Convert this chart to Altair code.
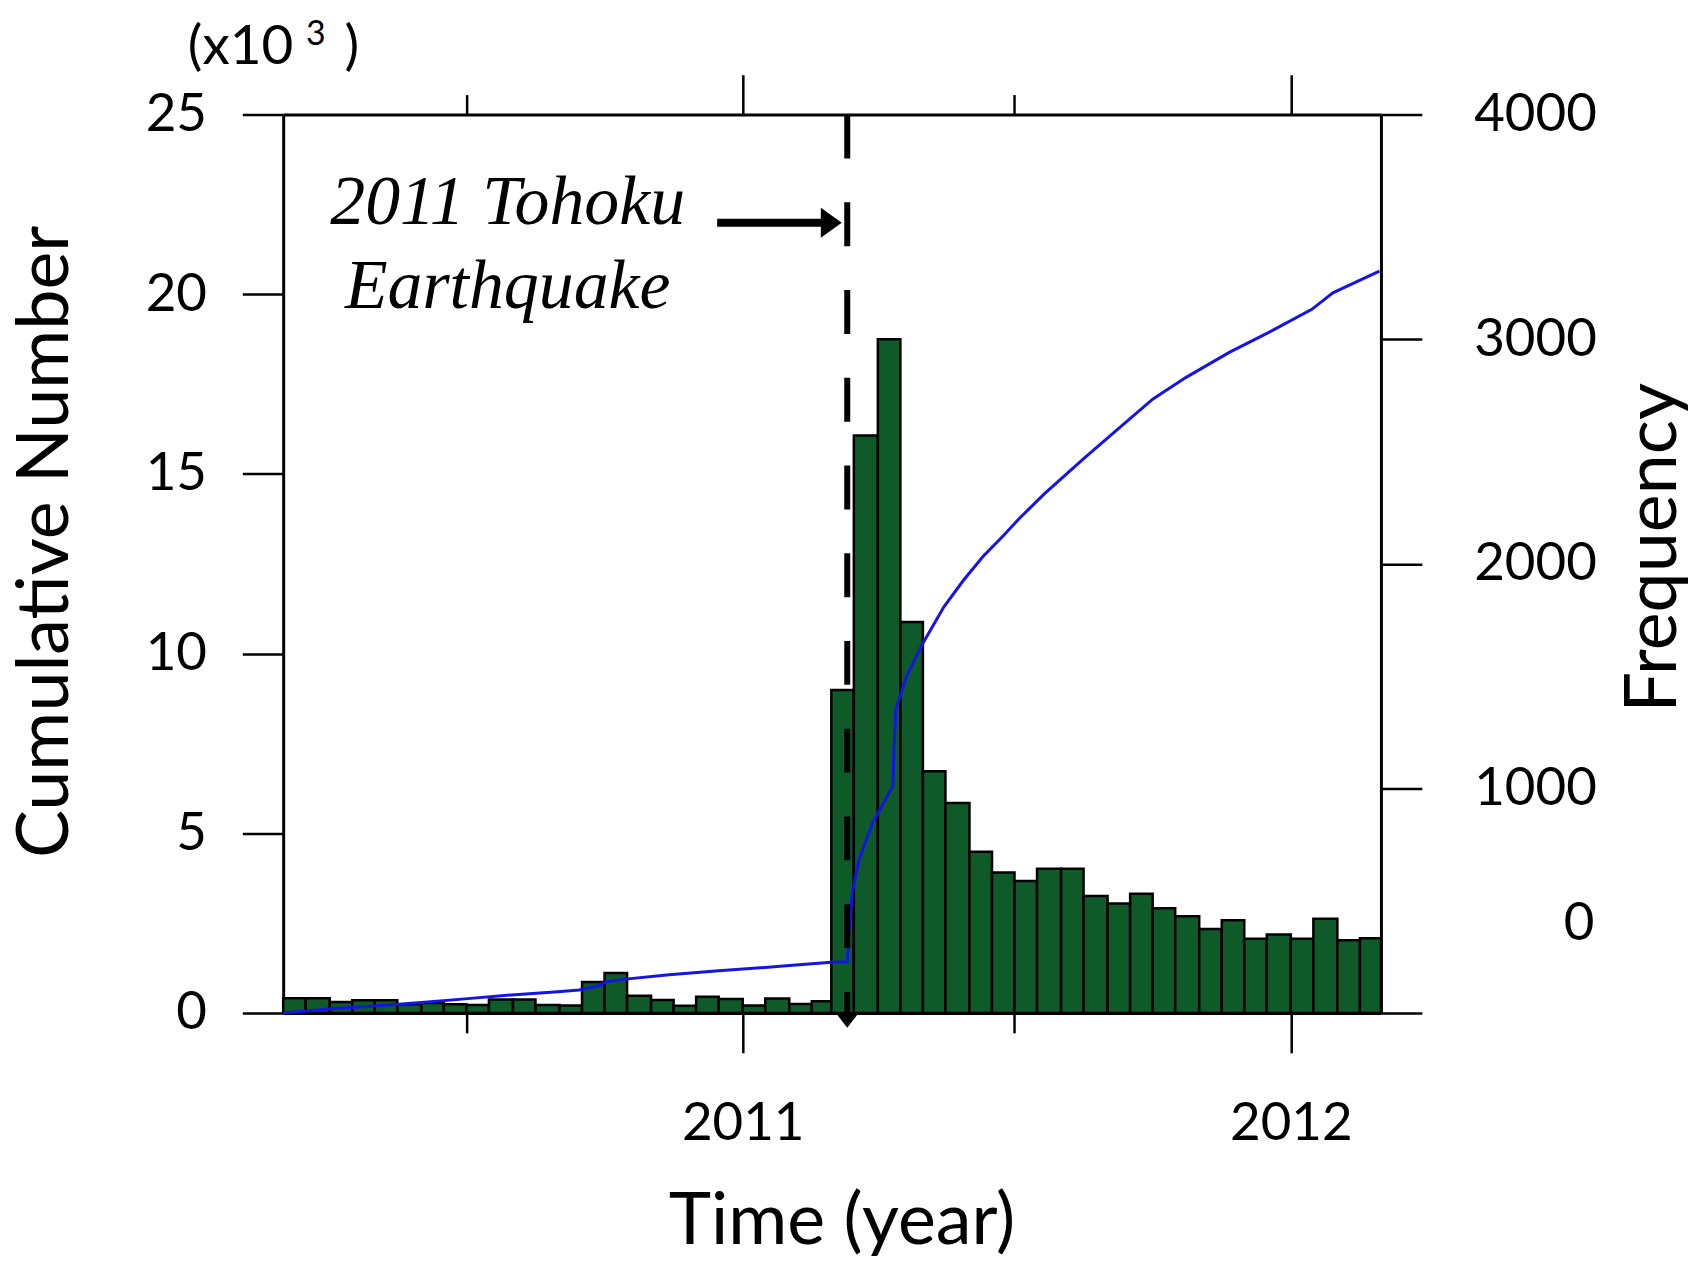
import altair as alt
import pandas as pd

# ---------------- data ----------------
# half-month bins, March 2010 .. February 2012
bin_starts = []
for yr, mo in [(2010, m) for m in range(3, 13)] + [(2011, m) for m in range(1, 13)] + [(2012, 1), (2012, 2)]:
    bin_starts.append(f"{yr}-{mo:02d}-01T00:00:00")
    bin_starts.append(f"{yr}-{mo:02d}-16T00:00:00")
bin_ends = bin_starts[1:] + ["2012-03-01T00:00:00"]

freq = [65, 65, 48, 56, 56, 38, 44, 38, 35, 60, 60, 35,
        33, 138, 178, 76, 57, 32, 72, 62, 33, 64, 40, 52,
        1438, 2571, 3000, 1741, 1076, 935, 717, 625, 587, 642, 642, 521,
        487, 530, 466, 430, 374, 413, 330, 349, 330, 419, 324, 332]

cum_dates = ["2010-03-01T00:00:00", "2010-03-31T00:00:00", "2010-05-01T00:00:00",
             "2010-05-30T00:00:00", "2010-06-30T00:00:00", "2010-07-31T00:00:00",
             "2010-08-31T00:00:00", "2010-09-14T00:00:00", "2010-09-28T00:00:00",
             "2010-10-02T00:00:00", "2010-10-15T00:00:00", "2010-11-13T00:00:00",
             "2010-12-16T00:00:00", "2011-01-30T00:00:00", "2011-03-01T00:00:00",
             "2011-03-11T14:46:00", "2011-03-13T00:00:00", "2011-03-15T00:00:00",
             "2011-03-19T12:00:00", "2011-03-28T12:00:00", "2011-04-11T00:00:00",
             "2011-04-11T18:00:00", "2011-04-13T00:00:00", "2011-04-20T00:00:00",
             "2011-05-01T00:00:00", "2011-05-15T00:00:00", "2011-05-28T00:00:00",
             "2011-06-10T00:00:00", "2011-06-24T00:00:00", "2011-07-04T00:00:00",
             "2011-07-21T00:00:00", "2011-08-17T00:00:00", "2011-09-08T00:00:00",
             "2011-10-01T00:00:00", "2011-10-23T00:00:00", "2011-11-21T00:00:00",
             "2011-12-17T00:00:00", "2012-01-15T00:00:00", "2012-01-29T00:00:00",
             "2012-02-29T00:00:00"]
cum_vals = [0.0, 0.11, 0.19,
            0.28, 0.39, 0.50,
            0.59, 0.64, 0.76,
            0.87, 0.94, 1.06,
            1.17, 1.31, 1.41,
            1.42, 2.42, 3.35,
            4.27, 5.29, 6.31,
            7.33, 8.44, 9.36,
            10.29, 11.30, 12.04,
            12.70, 13.30, 13.75,
            14.45, 15.46, 16.25,
            17.08, 17.68, 18.38,
            18.93, 19.58, 20.04,
            20.64]

bars_df = pd.DataFrame({"start": bin_starts, "end": bin_ends, "freq": freq})
line_df = pd.DataFrame({"date": cum_dates, "cum": cum_vals})
one_row = pd.DataFrame({"k": [0]})

# ---------------- style ----------------
FONT = "Lato"
SERIF = "Liberation Serif"
GREEN = "#0e5a28"
BLUE = "#1414e6"

x_scale = alt.Scale(domain=[alt.DateTime(year=2010, month=3, date=1),
                            alt.DateTime(year=2012, month=3, date=1)])
x_ticks = [alt.DateTime(year=2010, month=7, date=1), alt.DateTime(year=2011, month=1, date=1),
           alt.DateTime(year=2011, month=7, date=1), alt.DateTime(year=2012, month=1, date=1)]
tick_len = {"condition": {"test": "month(datum.value) === 0", "value": 40}, "value": 20}

common_axis = dict(domainColor="black", domainWidth=3, tickColor="black", tickWidth=2.5,
                   labelColor="black", titleColor="black", labelFont=FONT, titleFont=FONT,
                   labelFontSize=53, titleFontSize=72, titleFontWeight="normal", grid=False)

bottom_axis = alt.Axis(orient="bottom", values=x_ticks, tickSize=tick_len,
                       labelExpr="month(datum.value) === 0 ? timeFormat(datum.value, '%Y') : ''",
                       labelPadding=45, title="Time (year)", titlePadding=36, titleX=560,
                       **common_axis)
top_axis = alt.Axis(orient="top", values=x_ticks, tickSize=tick_len, labels=False,
                    title="", **common_axis)
left_axis = alt.Axis(orient="left", values=[0, 5, 10, 15, 20, 25], tickSize=41,
                     labelPadding=36, title="Cumulative Number", titlePadding=63, titleY=428,
                     **common_axis)
right_axis = alt.Axis(orient="right", values=[0, 1000, 2000, 3000, 4000], tickSize=41,
                      format="d", labelAlign="right", labelPadding=175,
                      labelExpr="datum.value === 0 ? '' : datum.label",
                      title="Frequency", titleAngle=270, titleBaseline="top", titlePadding=38,
                      titleY=434, **common_axis)

# ---------------- frequency group (right axis) ----------------
bars = alt.Chart(bars_df).mark_bar(color=GREEN, stroke="black", strokeWidth=2.5).encode(
    x=alt.X("start:T", scale=x_scale, axis=bottom_axis),
    x2="end:T",
    y=alt.Y("freq:Q", scale=alt.Scale(domain=[0, 4000], nice=False), axis=right_axis),
    y2=alt.Y2(datum=0),
)
zero_label = alt.Chart(one_row).mark_text(
    text="0", font=FONT, fontSize=53, align="right", baseline="middle", dx=214, color="black"
).encode(
    x=alt.X(datum=alt.DateTime(year=2012, month=3, date=1)),
    y=alt.Y(datum=395),
)
freq_group = alt.layer(bars, zero_label)

# ---------------- cumulative group (left axis) ----------------
quake = alt.DateTime(year=2011, month=3, date=11, hours=14, minutes=46)

cum_line = alt.Chart(line_df).mark_line(color=BLUE, strokeWidth=3).encode(
    x=alt.X("date:T", scale=x_scale, axis=top_axis),
    y=alt.Y("cum:Q", scale=alt.Scale(domain=[0, 25], nice=False), axis=left_axis),
)
quake_rule = alt.Chart(one_row).mark_rule(color="black", strokeWidth=6, strokeDash=[44, 44]).encode(
    x=alt.X(datum=quake), y=alt.Y(datum=25), y2=alt.Y2(datum=0)
)
quake_tri = alt.Chart(one_row).mark_point(
    shape="M -1 0 L 1 0 L 0 1.3 Z", size=529, filled=True, color="black", opacity=1
).encode(x=alt.X(datum=quake), y=alt.Y(datum=0))

arrow_shaft = alt.Chart(one_row).mark_rule(color="black", strokeWidth=8).encode(
    x=alt.X(datum=alt.DateTime(year=2010, month=12, date=15)),
    x2=alt.X2(datum=alt.DateTime(year=2011, month=2, date=28)),
    y=alt.Y(datum=21.99),
)
arrow_head = alt.Chart(one_row).mark_point(
    shape="M -0.7 -1 L 0.7 0 L -0.7 1 Z", size=900, filled=True, color="black", opacity=1
).encode(x=alt.X(datum=alt.DateTime(year=2011, month=3, date=1)), y=alt.Y(datum=21.99))

label_mid = alt.DateTime(year=2010, month=7, date=28, hours=12)
eq_line1 = alt.Chart(one_row).mark_text(
    text="2011 Tohoku", font=SERIF, fontStyle="italic", fontSize=70, align="center",
    baseline="alphabetic", color="black"
).encode(x=alt.X(datum=label_mid), y=alt.Y(datum=21.96))
eq_line2 = alt.Chart(one_row).mark_text(
    text="Earthquake", font=SERIF, fontStyle="italic", fontSize=70, align="center",
    baseline="alphabetic", color="black"
).encode(x=alt.X(datum=label_mid), y=alt.Y(datum=19.63))

left_edge = alt.DateTime(year=2010, month=3, date=1)
unit_a = alt.Chart(one_row).mark_text(
    text="(x10", font=FONT, fontSize=55, align="left", baseline="alphabetic", dx=-95.6, dy=-51,
    color="black"
).encode(x=alt.X(datum=left_edge), y=alt.Y(datum=25))
unit_b = alt.Chart(one_row).mark_text(
    text="3", font=FONT, fontSize=34, align="left", baseline="alphabetic", dx=23, dy=-70,
    color="black"
).encode(x=alt.X(datum=left_edge), y=alt.Y(datum=25))
unit_c = alt.Chart(one_row).mark_text(
    text=")", font=FONT, fontSize=55, align="left", baseline="alphabetic", dx=61.4, dy=-51,
    color="black"
).encode(x=alt.X(datum=left_edge), y=alt.Y(datum=25))

cum_group = alt.layer(cum_line, quake_rule, quake_tri, arrow_shaft, arrow_head,
                      eq_line1, eq_line2, unit_a, unit_b, unit_c)

chart = alt.layer(freq_group, cum_group).resolve_scale(
    y="independent"
).resolve_axis(
    x="independent"
).properties(
    width=1101, height=901,
    autosize=alt.AutoSizeParams(type="none"),
    padding={"left": 276, "top": 105, "right": 316, "bottom": 258},
).configure_view(strokeWidth=0)

chart.save("out.html", embed_options={"renderer": "svg", "actions": False})
